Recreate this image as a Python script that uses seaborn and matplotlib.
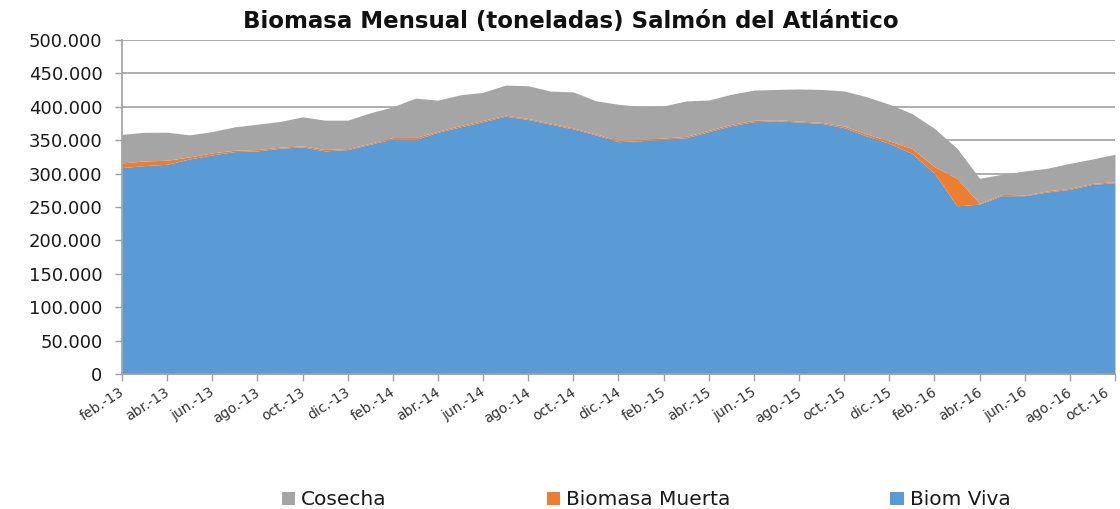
import numpy as np
import matplotlib
matplotlib.use("Agg")
import matplotlib.pyplot as plt
import matplotlib.transforms as mtransforms
import seaborn as sns
from matplotlib.patches import Patch
from matplotlib.ticker import FuncFormatter

months = ["feb.-13", "mar.-13", "abr.-13", "may.-13", "jun.-13", "jul.-13", "ago.-13", "sept.-13",
          "oct.-13", "nov.-13", "dic.-13", "ene.-14", "feb.-14", "mar.-14", "abr.-14", "may.-14",
          "jun.-14", "jul.-14", "ago.-14", "sept.-14", "oct.-14", "nov.-14", "dic.-14", "ene.-15",
          "feb.-15", "mar.-15", "abr.-15", "may.-15", "jun.-15", "jul.-15", "ago.-15", "sept.-15",
          "oct.-15", "nov.-15", "dic.-15", "ene.-16", "feb.-16", "mar.-16", "abr.-16", "may.-16",
          "jun.-16", "jul.-16", "ago.-16", "sept.-16", "oct.-16"]

biom_viva = [309000, 312000, 314000, 322000, 328000, 333000, 334000, 338000, 340000, 334000,
             336000, 344000, 352000, 351000, 362000, 370000, 377700, 386000, 381000, 374000,
             366800, 357800, 347800, 349300, 351300, 353800, 362800, 371800, 377700, 379000,
             377200, 375200, 368800, 356300, 345300, 330300, 300400, 251500, 254500, 267000,
             267000, 272500, 276400, 283900, 286400]

biomasa_muerta = [7000, 7000, 6000, 3000, 3000, 2000, 2000, 1500, 1500, 2000,
                  1500, 1500, 2000, 3000, 1500, 2000, 2000, 1500, 1500, 1500,
                  1500, 1500, 2000, 2000, 2000, 2000, 2000, 2000, 2000, 1500,
                  1500, 1500, 2500, 3000, 3500, 7500, 10000, 41400, 1000, 2000,
                  1000, 1500, 1600, 1500, 1500]

cosecha = [42800, 42800, 42000, 33000, 32000, 35000, 38000, 38500, 43500, 44000,
           42500, 45500, 46000, 59000, 46500, 46000, 42000, 45000, 49000, 48000,
           54000, 49700, 54000, 49000, 48000, 53000, 45400, 45000, 45300, 45500,
           48000, 49300, 52400, 55700, 55000, 52200, 57300, 45000, 37500, 30000,
           36000, 34000, 37400, 36500, 41000]

series_names = ["Biom Viva", "Biomasa Muerta", "Cosecha"]
legend_order = ["Cosecha", "Biomasa Muerta", "Biom Viva"]
title = "Biomasa Mensual (toneladas) Salmón del Atlántico"

sns.set_theme(style="white")
plt.rcParams["font.family"] = ["DejaVu Sans"]

colors = {"Biom Viva": "#5B9BD5", "Biomasa Muerta": "#ED7D31", "Cosecha": "#A5A5A5"}

fig = plt.figure(figsize=(11.2, 5.09), dpi=100)
ax = fig.add_axes([0.1089, 0.2652, 0.8866, 0.6562])

x = np.arange(len(months))
ax.stackplot(x, biom_viva, biomasa_muerta, cosecha,
             colors=[colors[n] for n in series_names], linewidth=0, zorder=2)

ax.set_xlim(0, len(months) - 1)
ax.set_ylim(0, 500000)
ax.set_yticks(np.arange(0, 500001, 50000))
ax.yaxis.set_major_formatter(FuncFormatter(lambda v, p: "0" if v == 0 else f"{int(v):,}".replace(",", ".")))
ax.tick_params(axis="y", labelsize=13, length=5, width=1, color="#A0A0A0", pad=9,
               direction="out", left=True, labelcolor="#1a1a1a")
ax.set_xticks(x[::2])
ax.set_xticklabels(months[::2], rotation=33, ha="right", rotation_mode="anchor", fontsize=10,
                   color="#333333")
ax.tick_params(axis="x", length=5, width=1, color="#A0A0A0", pad=3, direction="out", bottom=True)
xlabels = ax.get_xticklabels()
for i, lab in enumerate(xlabels):
    dx = -8 / 72 if i == len(xlabels) - 1 else -2 / 72
    lab.set_transform(lab.get_transform() + mtransforms.ScaledTranslation(dx, 0, fig.dpi_scale_trans))

ax.grid(axis="y", color="#A0A0A0", linewidth=1.2, zorder=1)
ax.set_axisbelow(True)
for s in ["top", "right"]:
    ax.spines[s].set_visible(False)
for s in ["left", "bottom"]:
    ax.spines[s].set_color("#A0A0A0")
    ax.spines[s].set_linewidth(1.2)

fig.text(0.510, 0.958, title, ha="center", va="center", fontsize=16.5, fontweight="bold",
         color="#111111")

handles = [Patch(facecolor=colors[n], edgecolor="none", label=n) for n in legend_order]
fig.legend(handles=handles, loc="center left", bbox_to_anchor=(282 / 1120, 0.018), ncol=3,
           frameon=False, borderpad=0, borderaxespad=0,
           fontsize=14.5, handlelength=0.65, handleheight=0.65, handletextpad=0.3,
           columnspacing=7.95, labelcolor="#1a1a1a")

fig.savefig("out.png", dpi=100)
